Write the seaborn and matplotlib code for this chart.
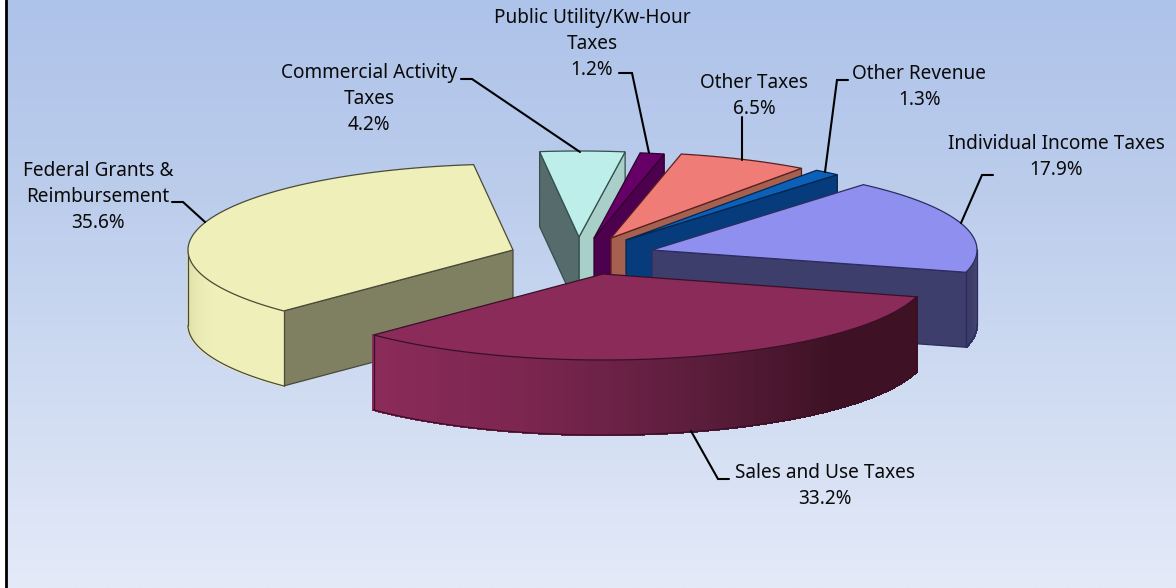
import numpy as np
import matplotlib
matplotlib.use('Agg')
import matplotlib.pyplot as plt
import seaborn as sns

# Slices, counter-clockwise from the right edge of Individual Income Taxes
categories = ['Individual Income Taxes', 'Other Revenue', 'Other Taxes',
              'Public Utility/Kw-Hour Taxes', 'Commercial Activity Taxes',
              'Federal Grants & Reimbursement', 'Sales and Use Taxes']
shares = [17.9, 1.3, 6.5, 1.2, 4.2, 35.6, 33.2]

label_text = ['Individual Income Taxes\n17.9%', 'Other Revenue\n1.3%', 'Other Taxes\n6.5%',
              'Public Utility/Kw-Hour\nTaxes\n1.2%', 'Commercial Activity\nTaxes\n4.2%',
              'Federal Grants &\nReimbursement\n35.6%', 'Sales and Use Taxes\n33.2%']

# Look of the pie
start_angle = -15
rx, ry = 325, 86
depth = 75

# where each exploded slice has its tip, in pixels of the picture
tips = [(652, 250), (626, 240), (611, 238), (594, 238), (579, 237), (513, 250), (603, 274)]

top_colors = ['#8f8fef', '#0d60b8', '#f07c78', '#660066', '#bdeeea', '#efefb9', '#8b2b5a']
face_colors = ['#3e3e6c', '#063c7c', '#a5604f', '#4d004d', '#a8cfc8', '#7f7f62', '#5a1c3a']
end_face_colors = ['#3e3e6c', '#063c7c', '#a5604f', '#4d004d', '#566c6c', '#7f7f62', '#5a1c3a']
edge_colors = ['#2c2c60', '#04264f', '#5a2020', '#300030', '#33504c', '#4a4a38', '#3a1028']

# Wall shading goes along the slice, from its first angle to its last
wall_shades = [['#3a3a68', '#44446f'], ['#063c7c'] * 2, ['#a5604f'] * 2, ['#4d004d'] * 2,
               ['#566c6c'] * 2, ['#dcdca6', '#efefb9', '#efefb9'],
               ['#8b2b5a', '#7c2650', '#5e1e3e', '#3e1224', '#3e1224']]

label_pos = [(1056, 157), (919.5, 87), (754, 96), (592, 44), (369, 99), (98, 197), (825, 486)]

leaders = [[(993, 175), (982, 175), (961, 223)],
           [(848, 80), (837, 80), (825, 172)],
           [(742, 117), (742, 160)],
           [(619, 73), (632, 73), (649, 153)],
           [(461, 79), (472, 79), (580, 152)],
           [(172, 202), (183, 202), (205, 222)],
           [(729, 479), (718, 479), (691, 431)]]

sns.set_theme(style='white')
plt.rcParams['font.family'] = ['Noto Sans', 'DejaVu Sans']

fig = plt.figure(figsize=(11.76, 5.88), dpi=100, facecolor='white')
ax = fig.add_axes([0, 0, 1, 1])
ax.set_xlim(0, 1176)
ax.set_ylim(588, 0)
ax.axis('off')

# Background gradient and the frame line on the left
bg = sns.blend_palette(['#aec3ea', '#bccdec', '#d0dcf2', '#e4eaf8'], 256, as_cmap=True)
ax.imshow(np.linspace(0, 1, 256).reshape(-1, 1), cmap=bg, extent=(6, 1176, 588, 0), aspect='auto', zorder=0)
ax.plot([6, 6], [0, 588], color='black', lw=2, zorder=1)


def point(tip, ang):
    a = np.radians(ang)
    return tip[0] + rx * np.cos(a), tip[1] - ry * np.sin(a)


def draw_slice(i, a0, a1, z):
    tip = tips[i]
    edge = edge_colors[i]

    # flat sides, only where they face the viewer
    for ang, col, show in [(a0, face_colors[i], np.cos(np.radians(a0)) > 0),
                           (a1, end_face_colors[i], np.cos(np.radians(a1)) < 0)]:
        if show:
            px, py = point(tip, ang)
            ax.fill([tip[0], px, px, tip[0]], [tip[1], py, py + depth, tip[1] + depth],
                    facecolor=col, edgecolor=edge, lw=0.9, zorder=z)

    # outer wall, in thin strips so the shade can change
    angs = np.linspace(a0, a1, 121)
    strips = [k for k in range(120) if np.sin(np.radians((angs[k] + angs[k + 1]) / 2)) < 0]
    shades = sns.blend_palette(wall_shades[i], max(len(strips), 1))
    for n, k in enumerate(strips):
        x0, y0 = point(tip, angs[k])
        x1, y1 = point(tip, angs[k + 1])
        ax.fill([x0, x1, x1, x0], [y0, y1, y1 + depth, y0 + depth],
                facecolor=shades[n], edgecolor=shades[n], lw=1, antialiased=False, zorder=z)
    if strips:
        wx, wy = point(tip, angs[strips[0]])
        ex, ey = point(tip, angs[strips[-1] + 1])
        arc = [point(tip, angs[k]) for k in strips] + [(ex, ey)]
        xs = [p[0] for p in arc]
        ys = [p[1] + depth for p in arc]
        ax.plot(xs, ys, color=edge, lw=0.9, zorder=z)
        ax.plot([wx, wx], [wy, wy + depth], color=edge, lw=0.9, zorder=z)
        ax.plot([ex, ex], [ey, ey + depth], color=edge, lw=0.9, zorder=z)

    # top
    top = [point(tip, a) for a in angs]
    ax.fill([tip[0]] + [p[0] for p in top], [tip[1]] + [p[1] for p in top],
            facecolor=top_colors[i], edgecolor=edge, lw=0.9, zorder=z)


# Back slices first, then Federal Grants and Sales in front
angles = start_angle + np.cumsum([0] + shares) * 3.6
order = [4, 3, 2, 1, 0, 5, 6]
for z, i in enumerate(order):
    draw_slice(i, angles[i], angles[i + 1], 3 + z)

for pts in leaders:
    ax.plot([p[0] for p in pts], [p[1] for p in pts], color='black', lw=1.5, zorder=20,
            solid_joinstyle='miter')

for text, pos in zip(label_text, label_pos):
    ax.text(pos[0], pos[1], text, ha='center', va='center', fontsize=13.7, color='#0a0a0a',
            linespacing=1.41, zorder=21)

plt.savefig('out.png', dpi=100)
plt.close()
